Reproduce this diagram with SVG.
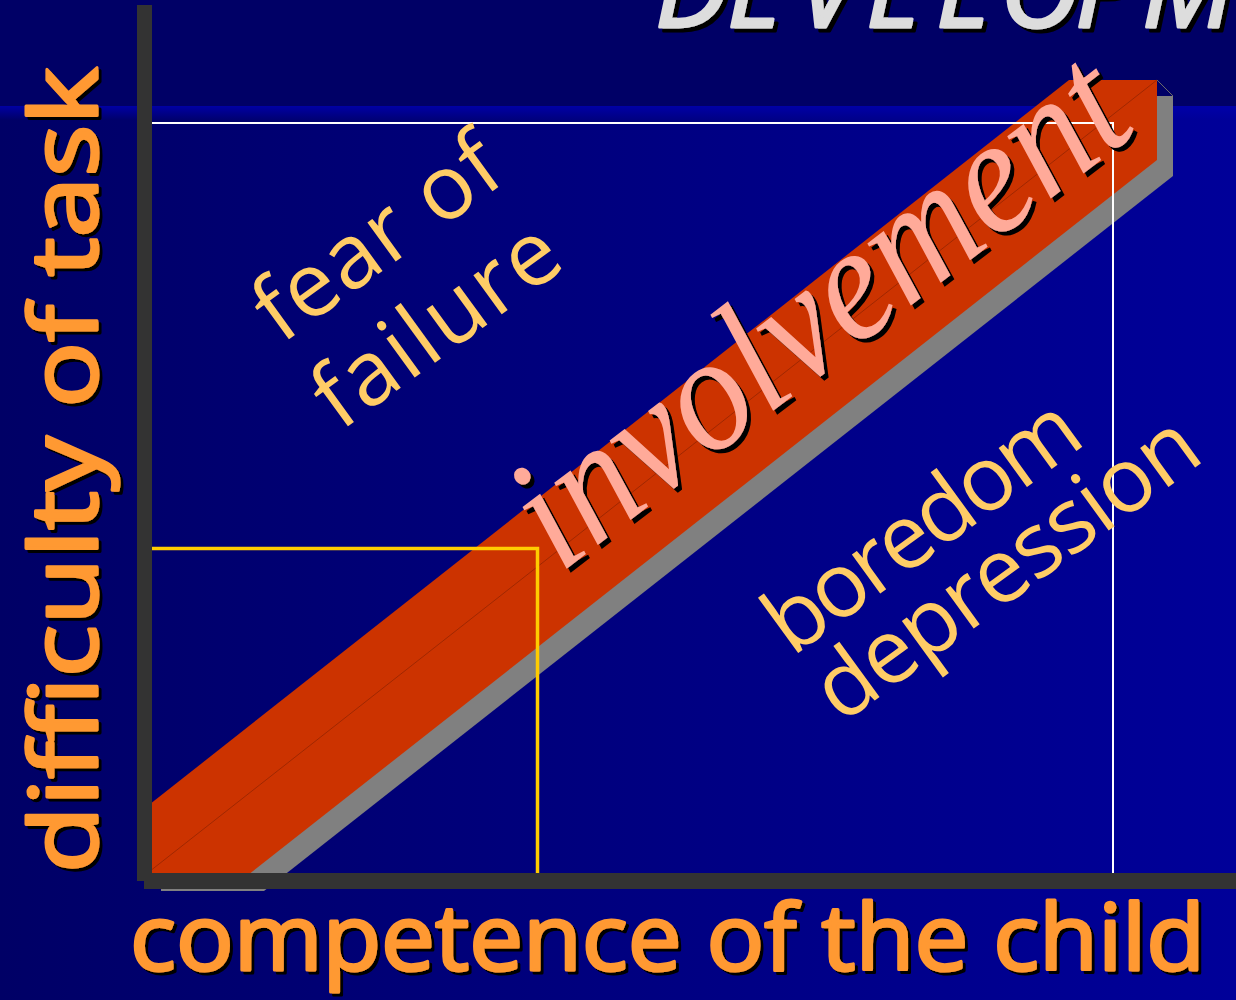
<svg xmlns="http://www.w3.org/2000/svg" width="1236" height="1000" viewBox="0 0 1236 1000">
  <style>
    .axis { fill: #333333; }
    .guide-white { fill: none; stroke: #ffffff; stroke-width: 2; }
    .guide-yellow { fill: none; stroke: #ffcc00; stroke-width: 3.5; }
    .axis-label { font-family: "Open Sans", "DejaVu Sans", sans-serif; font-weight: 400; fill: #ff9933; stroke: #ff9933; stroke-width: 3; stroke-linejoin: round; }
    .zone-label { font-family: "Open Sans", "DejaVu Sans", sans-serif; font-size: 90px; fill: #ffcc66; text-anchor: middle; }
    .flow-label { font-family: "Liberation Serif", "DejaVu Serif", serif; font-style: italic; font-size: 165px; fill: #ffaa99; text-anchor: middle; }
    .title { font-family: "Open Sans", "DejaVu Sans", sans-serif; font-style: italic; font-weight: 400; font-size: 110px; fill: #dddddd; stroke: #dddddd; stroke-width: 3; stroke-linejoin: round; }
  </style>
  <defs>
    <linearGradient id="plotFill" x1="0" y1="0" x2="1236" y2="0" gradientUnits="userSpaceOnUse">
      <stop offset="0" stop-color="#000066"/>
      <stop offset="1" stop-color="#000099"/>
    </linearGradient>
    <linearGradient id="edgeGlow" x1="0" y1="0" x2="0" y2="1">
      <stop offset="0" stop-color="#0000aa" stop-opacity="0.9"/>
      <stop offset="1" stop-color="#0000aa" stop-opacity="0"/>
    </linearGradient>
    <!-- hard black drop shadows; region spans the whole canvas so nothing is clipped -->
    <filter id="shadow3" filterUnits="userSpaceOnUse" x="-50" y="-150" width="1336" height="1200">
      <feDropShadow dx="3" dy="3" stdDeviation="0" flood-color="#000000" flood-opacity="1"/>
    </filter>
    <filter id="shadow4" filterUnits="userSpaceOnUse" x="-50" y="-150" width="1336" height="1200">
      <feDropShadow dx="4" dy="4" stdDeviation="0" flood-color="#000000" flood-opacity="1"/>
    </filter>
  </defs>

  <!-- backdrop: dark title strip over a left-to-right blue plot area -->
  <rect x="0" y="0" width="1236" height="1000" fill="#000066"/>
  <rect x="0" y="106" width="1236" height="894" fill="url(#plotFill)"/>
  <rect x="0" y="106" width="1236" height="14" fill="url(#edgeGlow)"/>

  <!-- title, cropped by the top edge -->
  <g id="title" filter="url(#shadow4)">
    <text class="title" x="655 727 797 866 936 1000 1075 1142" y="27">DEVELOPM</text>
  </g>

  <!-- involvement band: drop shadow, face, and ridge line -->
  <g id="band">
    <polygon points="161,824 1085,96 1173,96 1173,176 264,891 161,891" fill="#808080"/>
    <polygon points="145,808 1069,80 1157,80 1157,160 248,875 145,875" fill="#cc3300"/>
    <line x1="145" y1="875" x2="1157" y2="80" stroke="#a02800" stroke-width="1"/>
    <line x1="1157" y1="80" x2="1173" y2="96" stroke="#6a6a6a" stroke-width="1"/>
  </g>

  <!-- reference lines -->
  <g id="connectors">
    <path class="guide-white" d="M145,123 H1113 V873"/>
    <path class="guide-yellow" d="M145,548.5 H537.5 V873"/>
  </g>

  <!-- axes -->
  <g id="axes">
    <rect class="axis" x="137" y="5" width="15" height="876"/>
    <rect class="axis" x="144" y="873" width="1092" height="16"/>
  </g>

  <!-- region labels -->
  <g id="fear-of-failure">
    <text class="zone-label" x="395" y="262" textLength="282" transform="rotate(-36 395 262)">fear of</text>
    <text class="zone-label" x="454" y="349" textLength="282" transform="rotate(-36 454 349)">failure</text>
  </g>
  <g id="boredom-depression">
    <text class="zone-label" x="940" y="550" textLength="366" transform="rotate(-36 940 550)">boredom</text>
    <text class="zone-label" x="1024" y="592" textLength="452" transform="rotate(-36 1024 592)">depression</text>
  </g>
  <g id="involvement" filter="url(#shadow4)">
    <text class="flow-label" x="850" y="352" textLength="730" lengthAdjust="spacingAndGlyphs" transform="rotate(-37.4 850 352)">involvement</text>
  </g>

  <!-- axis titles -->
  <g id="y-axis-label" filter="url(#shadow3)">
    <text class="axis-label" font-size="94" x="0" y="0" textLength="806" lengthAdjust="spacingAndGlyphs" transform="translate(97 873) rotate(-90)">difficulty of task</text>
  </g>
  <g id="x-axis-label" filter="url(#shadow3)">
    <text class="axis-label" font-size="92" x="130" y="970" textLength="1075" lengthAdjust="spacingAndGlyphs">competence of the child</text>
  </g>
</svg>
